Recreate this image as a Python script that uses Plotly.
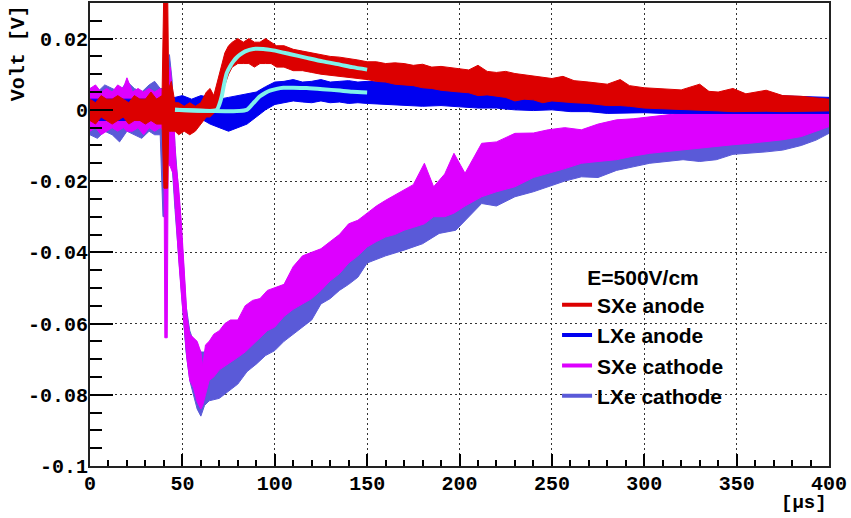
import plotly.graph_objects as go

# ---------------- data ----------------
# SXe anode (red) noise band: time [us], lower / upper envelope [V]
sxe_an_t = [0, 3, 6, 9, 12, 15, 18, 21, 24, 27, 30, 33, 36, 39, 40, 42, 42.6, 44, 46, 48, 51, 54, 57, 60,
            63, 65, 67, 69, 71, 73, 75, 77, 80, 83, 86, 89, 92, 95, 98, 101, 105, 110, 115, 120, 125, 130,
            135, 140, 145, 150, 155, 160, 165, 170, 175, 180, 185, 190, 195, 200, 205, 210, 215, 220, 225,
            230, 235, 240, 245, 250, 256, 262, 270, 280, 287, 292, 300, 310, 320, 330, 335, 340, 348, 355,
            366, 375, 385, 392, 400]
sxe_an_lo = [-0.003, -0.004, -0.002, -0.003, -0.004, -0.003, -0.002, -0.004, -0.003, -0.003, -0.004, -0.003,
             -0.004, -0.004, -0.022, -0.022, -0.006, -0.006, -0.006, -0.007, -0.006, -0.007, -0.006, -0.004,
             -0.002, -0.002, -0.001, 0.0, 0.003, 0.007, 0.010, 0.012, 0.013, 0.013, 0.013, 0.012, 0.013, 0.013,
             0.013, 0.012, 0.012, 0.011, 0.011, 0.0105, 0.010, 0.0098, 0.0095, 0.009, 0.0088, 0.0085, 0.008,
             0.0078, 0.0072, 0.007, 0.0068, 0.0062, 0.006, 0.0055, 0.0052, 0.005, 0.0048, 0.004, 0.0042, 0.0038,
             0.0035, 0.0025, 0.003, 0.0028, 0.002, 0.0025, 0.0022, 0.002, 0.0018, 0.0012, 0.0012, 0.001, 0.0005,
             0.0003, 0.0, 0.0, -0.0002, -0.0003, -0.0005, -0.0005, -0.0004, -0.0005, -0.0003, -0.0004, -0.0003]
sxe_an_hi = [0.003, 0.002, 0.004, 0.003, 0.003, 0.004, 0.003, 0.002, 0.004, 0.003, 0.003, 0.005, 0.003, 0.004,
             0.035, 0.035, 0.006, 0.008, 0.002, 0.002, 0.001, 0.002, 0.001, 0.002, 0.005, 0.006, 0.004, 0.008,
             0.012, 0.016, 0.018, 0.019, 0.020, 0.019, 0.020, 0.019, 0.019, 0.020, 0.019, 0.018, 0.018, 0.017,
             0.0165, 0.016, 0.0155, 0.015, 0.0148, 0.0145, 0.014, 0.0135, 0.0135, 0.013, 0.0132, 0.013, 0.0125,
             0.0128, 0.012, 0.0122, 0.0118, 0.0115, 0.0112, 0.0125, 0.0108, 0.0105, 0.0108, 0.0102, 0.0098,
             0.0095, 0.0092, 0.0088, 0.0094, 0.0082, 0.0078, 0.0072, 0.0085, 0.0068, 0.0062, 0.006, 0.0056,
             0.0072, 0.0052, 0.005, 0.006, 0.0045, 0.0055, 0.004, 0.0038, 0.0034, 0.003]

# LXe anode (blue)
lxe_an_t = [0, 10, 20, 30, 39, 46, 50, 55, 60, 65, 70, 75, 80, 85, 90, 95, 100, 105, 110, 115, 120, 125, 130,
            135, 140, 145, 150, 160, 170, 180, 190, 200, 210, 220, 230, 240, 250, 260, 270, 280, 290, 300,
            310, 320, 330, 340, 350, 360, 370, 380, 390, 400]
lxe_an_lo = [-0.003, -0.003, -0.003, -0.003, -0.003, -0.003, -0.002, -0.003, -0.0025, -0.004, -0.005, -0.006,
             -0.005, -0.004, -0.002, 0.0, 0.0015, 0.002, 0.0025, 0.0022, 0.002, 0.0025, 0.002, 0.0022, 0.0018,
             0.002, 0.0018, 0.0015, 0.0012, 0.001, 0.0012, 0.0008, 0.0005, 0.0005, 0.0, -0.0002, 0.0, -0.0005,
             -0.0005, -0.001, -0.001, -0.0008, -0.001, -0.0012, -0.001, -0.0012, -0.001, -0.0012, -0.001,
             -0.0012, -0.001, -0.001]
lxe_an_hi = [0.003, 0.003, 0.003, 0.003, 0.003, 0.0035, 0.004, 0.003, 0.004, 0.0035, 0.003, 0.0035, 0.004,
             0.0045, 0.005, 0.0065, 0.0078, 0.008, 0.0085, 0.0078, 0.008, 0.0085, 0.0078, 0.008, 0.0082, 0.0078,
             0.008, 0.0078, 0.0075, 0.0072, 0.007, 0.0068, 0.0065, 0.006, 0.0058, 0.0055, 0.0052, 0.005, 0.0048,
             0.0045, 0.0045, 0.0042, 0.004, 0.0042, 0.004, 0.0038, 0.004, 0.0038, 0.004, 0.0038, 0.0036, 0.0035]

# SXe cathode (magenta)
sxe_ca_t = [0, 3, 6, 9, 12, 15, 18, 20, 23, 26, 29, 32, 35, 38, 40, 40.5, 41.8, 42.3, 43.5, 45, 46.5, 48, 49.5,
            51, 52.5, 54, 56, 58, 60, 61, 62.5, 64.5, 67, 70, 73, 76, 80, 84, 88, 92, 96, 100, 105, 110, 115,
            120, 125, 130, 135, 140, 145, 150, 155, 160, 165, 170, 175, 181, 186, 192, 197, 203, 212, 220, 230,
            240, 248, 257, 266, 275, 285, 294, 303, 312, 321, 330, 339, 348, 357, 366, 375, 385, 393, 400]
sxe_ca_lo = [-0.006, -0.005, -0.007, -0.006, -0.005, -0.006, -0.005, -0.006, -0.006, -0.005, -0.007, -0.005,
             -0.006, -0.005, -0.006, -0.064, -0.064, -0.015, -0.016, -0.018, -0.030, -0.042, -0.052, -0.062,
             -0.070, -0.076, -0.078, -0.082, -0.084, -0.083, -0.080, -0.076, -0.075, -0.073, -0.072, -0.071,
             -0.0695, -0.068, -0.066, -0.064, -0.062, -0.061, -0.058, -0.056, -0.0545, -0.053, -0.0507, -0.048,
             -0.046, -0.043, -0.041, -0.0385, -0.037, -0.0357, -0.035, -0.0338, -0.033, -0.032, -0.030, -0.030,
             -0.029, -0.027, -0.0244, -0.023, -0.0216, -0.019, -0.0178, -0.0165, -0.015, -0.0145, -0.014,
             -0.013, -0.0122, -0.0118, -0.0113, -0.0108, -0.0103, -0.0098, -0.0094, -0.009, -0.0084, -0.0075,
             -0.006, -0.0047]
sxe_ca_hi = [0.006, 0.007, 0.005, 0.006, 0.005, 0.007, 0.006, 0.009, 0.005, 0.006, 0.005, 0.006, 0.005, 0.006,
             0.005, 0.005, 0.006, 0.008, 0.012, 0.0, -0.015, -0.022, -0.032, -0.045, -0.058, -0.063, -0.064,
             -0.065, -0.068, -0.072, -0.066, -0.065, -0.063, -0.062, -0.060, -0.059, -0.059, -0.055, -0.0535,
             -0.053, -0.0507, -0.050, -0.049, -0.044, -0.041, -0.040, -0.039, -0.037, -0.035, -0.032, -0.031,
             -0.029, -0.027, -0.0254, -0.024, -0.0225, -0.021, -0.015, -0.0216, -0.018, -0.0122, -0.0178,
             -0.0094, -0.009, -0.0066, -0.0065, -0.0056, -0.005, -0.0056, -0.004, -0.0028, -0.0025, -0.0019,
             -0.0015, -0.0009, -0.0005, 0.0, -0.0005, -0.0009, -0.0009, -0.0009, -0.001, -0.001, -0.0008]

# LXe cathode (slate blue)
lxe_ca_t = [0, 4, 8, 12, 16, 20, 24, 28, 32, 35, 38, 39.5, 40.5, 41.5, 43, 44.5, 46, 47.5, 49, 50.5, 52, 54,
            56, 58, 60, 62, 64.5, 70, 75, 80, 85, 90, 95, 100, 105, 110, 115, 120, 125, 130, 135, 140, 145,
            150, 160, 170, 180, 189, 198, 203, 212, 220, 230, 240, 248, 257, 266, 275, 285, 294, 303, 312,
            321, 330, 339, 348, 357, 366, 375, 385, 393, 400]
lxe_ca_lo = [-0.007, -0.008, -0.006, -0.007, -0.009, -0.006, -0.007, -0.008, -0.006, -0.007, -0.007, -0.030,
             -0.030, -0.012, -0.012, -0.016, -0.028, -0.038, -0.050, -0.058, -0.068, -0.076, -0.080, -0.084,
             -0.086, -0.083, -0.0817, -0.081, -0.079, -0.077, -0.0735, -0.0714, -0.069, -0.0676, -0.065,
             -0.063, -0.061, -0.059, -0.0545, -0.053, -0.0507, -0.049, -0.047, -0.043, -0.041, -0.0394,
             -0.0376, -0.0347, -0.0338, -0.031, -0.0263, -0.027, -0.0244, -0.023, -0.0216, -0.020, -0.0188,
             -0.019, -0.017, -0.016, -0.015, -0.0145, -0.014, -0.0145, -0.014, -0.0125, -0.0122, -0.0118,
             -0.0113, -0.010, -0.0085, -0.0066]
lxe_ca_hi = [0.006, 0.005, 0.007, 0.006, 0.005, 0.008, 0.006, 0.005, 0.007, 0.008, 0.006, 0.006, 0.006, 0.007,
             0.0155, 0.008, -0.010, -0.020, -0.030, -0.042, -0.055, -0.062, -0.065, -0.066, -0.068, -0.068,
             -0.066, -0.064, -0.062, -0.060, -0.057, -0.055, -0.053, -0.052, -0.050, -0.047, -0.045, -0.043,
             -0.041, -0.039, -0.037, -0.035, -0.033, -0.031, -0.029, -0.027, -0.025, -0.023, -0.021, -0.020,
             -0.015, -0.014, -0.012, -0.011, -0.0095, -0.009, -0.0085, -0.008, -0.007, -0.006, -0.0055,
             -0.005, -0.0045, -0.004, -0.004, -0.0035, -0.003, -0.003, -0.0028, -0.0025, -0.002, -0.002]

# Fits (cyan)
fit_sxe_t = [46, 68.6, 70, 71.3, 72.5, 74, 75.8, 77.6, 79.4, 81.2, 84, 88.4, 93.8, 99.2, 108, 117.3, 126,
             135.3, 142, 150]
fit_sxe_v = [0, 0, 0.0015, 0.0038, 0.007, 0.0103, 0.0122, 0.0136, 0.0147, 0.0155, 0.0164, 0.0171, 0.0171,
             0.0167, 0.0157, 0.0146, 0.0136, 0.0127, 0.0120, 0.0113]
fit_lxe_t = [46, 84.8, 88.4, 92, 95, 97.4, 101, 104.6, 110, 117.3, 126, 135.3, 142, 150]
fit_lxe_v = [0, 0, 0.0019, 0.0038, 0.0048, 0.0054, 0.0059, 0.0062, 0.0062, 0.0061, 0.0058, 0.0054, 0.0051,
             0.0049]

y_tickvals = [-0.1, -0.08, -0.06, -0.04, -0.02, 0, 0.02]
y_ticktext = ["-0.1", "-0.08", "-0.06", "-0.04", "-0.02", "0", "0.02"]
x_tickvals = [0, 50, 100, 150, 200, 250, 300, 350, 400]
x_ticktext = ["0", "50", "100", "150", "200", "250", "300", "350", "400"]

names = ["SXe anode", "LXe anode", "SXe cathode", "LXe cathode"]
colors = {"SXe anode": "#dc0000", "LXe anode": "#0000f0",
          "SXe cathode": "#dd00ff", "LXe cathode": "#5a5ad8"}
fit_color = "#80f2ea"

# ---------------- figure ----------------
fig = go.Figure()

bands = [("LXe cathode", lxe_ca_t, lxe_ca_lo, lxe_ca_hi),
         ("SXe cathode", sxe_ca_t, sxe_ca_lo, sxe_ca_hi),
         ("LXe anode", lxe_an_t, lxe_an_lo, lxe_an_hi),
         ("SXe anode", sxe_an_t, sxe_an_lo, sxe_an_hi)]
for name, t, lo, hi in bands:
    fig.add_trace(go.Scatter(
        x=list(t) + list(t)[::-1], y=list(hi) + list(lo)[::-1],
        mode="lines", fill="toself", fillcolor=colors[name],
        line=dict(color=colors[name], width=1),
        showlegend=False, hoverinfo="skip"))

for t, v in [(fit_sxe_t, fit_sxe_v), (fit_lxe_t, fit_lxe_v)]:
    fig.add_trace(go.Scatter(x=t, y=v, mode="lines",
                             line=dict(color=fit_color, width=4, shape="spline", smoothing=0.6),
                             showlegend=False, hoverinfo="skip"))

# legend entries
for name in names:
    fig.add_trace(go.Scatter(x=[None], y=[None], mode="lines", name=name,
                             line=dict(color=colors[name], width=4)))

mono = "Liberation Mono"
sans = "Liberation Sans"
grid_dash = "2px,3px"

fig.update_layout(
    width=851, height=518,
    margin=dict(l=90, r=22, t=3, b=52, autoexpand=False),
    paper_bgcolor="white", plot_bgcolor="white",
    showlegend=True,
    legend=dict(
        x=0.632, y=0.4506, xanchor="left", yanchor="top",
        bgcolor="rgba(0,0,0,0)", borderwidth=0,
        font=dict(family=sans, size=21, color="black", weight="bold"),
        title=dict(text="E=500V/cm", side="top center",
                   font=dict(family=sans, size=21, color="black", weight="bold")),
        itemwidth=30, tracegroupgap=0,
    ),
    xaxis=dict(
        range=[0, 400], tickmode="array", tickvals=x_tickvals, ticktext=x_ticktext,
        ticks="inside", ticklen=12, tickwidth=1.5, tickcolor="black",
        showgrid=True, gridcolor="#333", gridwidth=1, griddash=grid_dash,
        showline=True, mirror=True, linecolor="#222", linewidth=2,
        zeroline=False, automargin=False, ticklabelstandoff=-2,
        tickfont=dict(family=mono, size=20, color="black", weight="bold"),
        minor=dict(tickmode="linear", tick0=0, dtick=10, ticks="inside", ticklen=6,
                   tickwidth=1.5, tickcolor="black", showgrid=False),
    ),
    yaxis=dict(
        range=[-0.1, 0.03], tickmode="array", tickvals=y_tickvals, ticktext=y_ticktext,
        ticks="inside", ticklen=23, tickwidth=1.5, tickcolor="black",
        showgrid=True, gridcolor="#333", gridwidth=1, griddash=grid_dash,
        showline=True, mirror=True, linecolor="#222", linewidth=2,
        zeroline=False, automargin=False, ticklabelstandoff=-4,
        tickfont=dict(family=mono, size=20, color="black", weight="bold"),
        minor=dict(tickmode="linear", tick0=0, dtick=0.005, ticks="inside", ticklen=12,
                   tickwidth=1.5, tickcolor="black", showgrid=False),
    ),
    annotations=[
        dict(text="Volt [V]", xref="paper", yref="paper", x=-0.097, y=1.0,
             xanchor="center", yanchor="top", textangle=-90, showarrow=False,
             font=dict(family=mono, size=20, color="black", weight="bold")),
        dict(text="[µs]", xref="paper", yref="paper", x=1.0, y=-0.08,
             xanchor="right", yanchor="middle", showarrow=False,
             font=dict(family=mono, size=19, color="black", weight="bold")),
    ],
)

fig.write_html("out.html", config={"displayModeBar": False},
               post_script="document.body.style.margin='0';document.body.style.overflow='hidden';")
